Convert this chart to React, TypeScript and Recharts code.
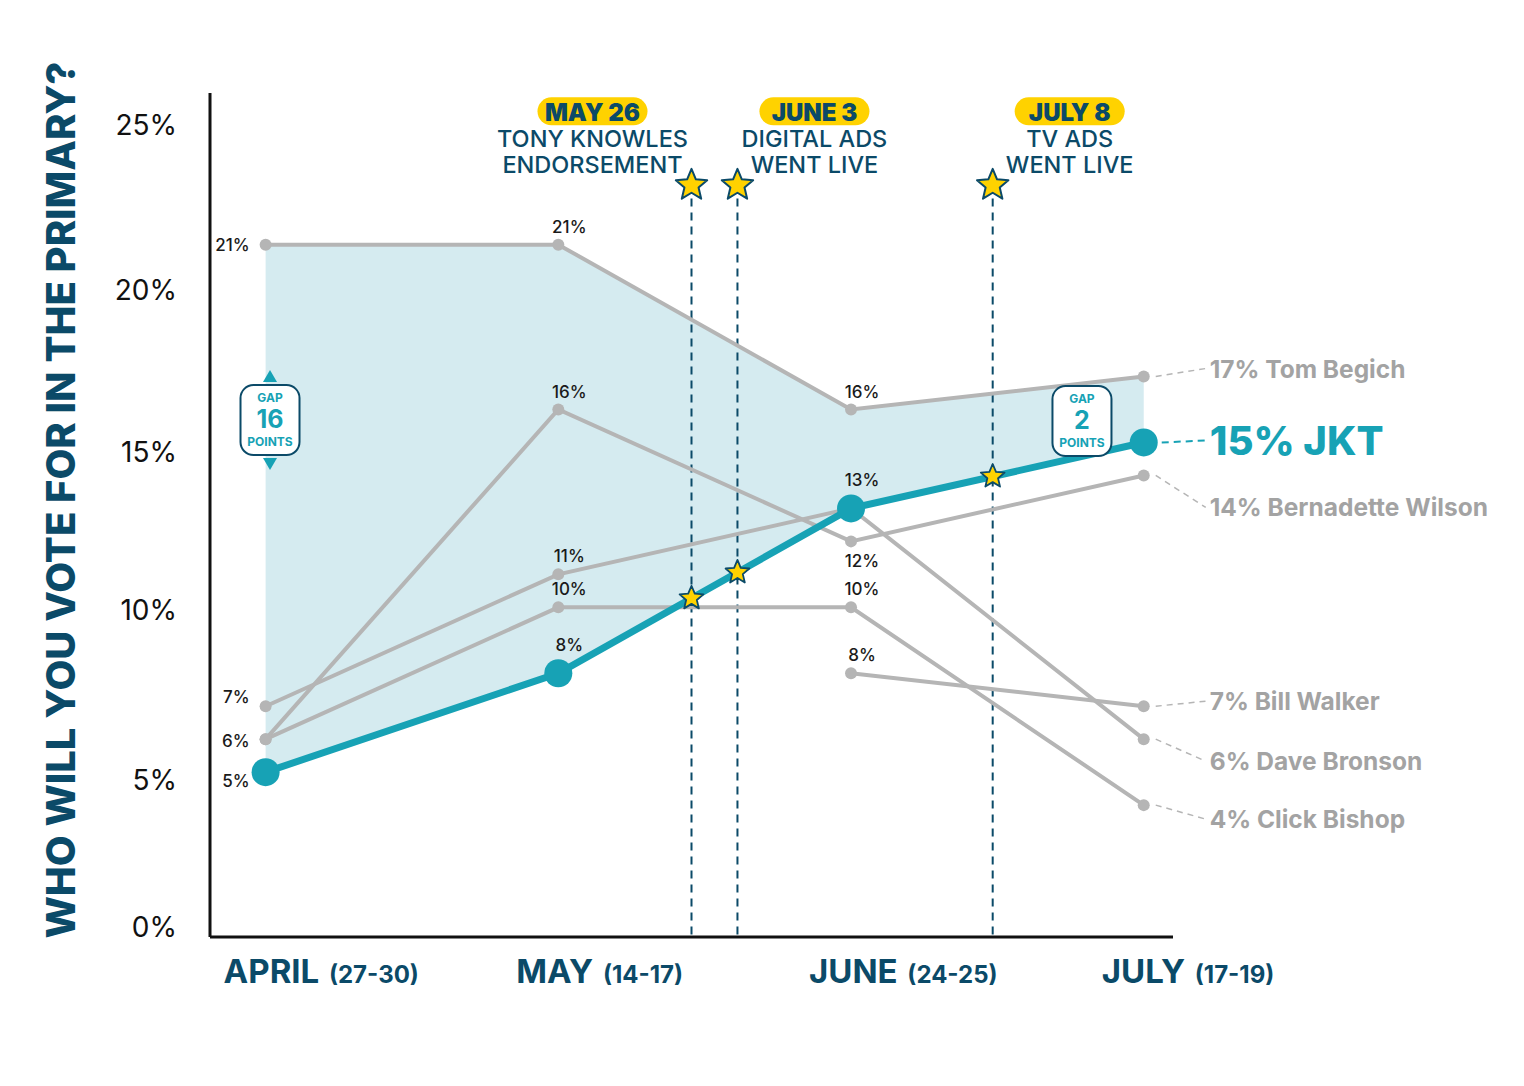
import React from 'react';
import {
  ComposedChart,
  Line,
  Area,
  XAxis,
  YAxis,
  ReferenceLine,
  ReferenceDot,
  Customized,
} from 'recharts';

// ---------- data ----------
const periods = ['APRIL', 'MAY', 'JUNE', 'JULY'];
const periodDates = ['(27-30)', '(14-17)', '(24-25)', '(17-19)'];
const periodX = [0, 1, 2, 3];

const jkt = [5, 8, 13, 15];
const begich = [21, 21, 16, 17];
const wilson = [6, 16, 12, 14];
const bronson = [7, 11, 13, 6];
const bishop = [6, 10, 10, 4];
const walker: (number | null)[] = [null, null, 8, 7];

const yTicks = [0, 5, 10, 15, 20, 25];

const eventX = [1.455, 1.612, 2.484];
const eventDates = ['MAY 26', 'JUNE 3', 'JULY 8'];
const eventLines = [
  ['TONY KNOWLES', 'ENDORSEMENT'],
  ['DIGITAL ADS', 'WENT LIVE'],
  ['TV ADS', 'WENT LIVE'],
];

const gapValues = [16, 2];

// ---------- styling / layout ----------
const FONT = 'Inter, "Noto Sans", sans-serif';
const NAVY = '#0b4a68';
const TEAL = '#17a2b5';
const GRAY = '#b5b5b5';
const GRAY_TEXT = '#a3a3a3';
const BAND = '#d5ebf0';
const YELLOW = '#ffd200';

const eventTextDx = [-99, 77, 77];
const eventTopY = 22.8;
const gapPos = [
  { x: 0.015, y: 15.68, arrows: true },
  { x: 2.789, y: 15.65, arrows: false },
];
const yTickShift: Record<number, number> = { 25: 12, 20: 12, 15: 10, 10: 3, 5: 8, 0: -10 };

type SeriesCfg = {
  key: string;
  name: string;
  firstDy: number;
  skip?: number[];
  below?: number[];
  rightDy: number;
};

const graySeries: SeriesCfg[] = [
  { key: 'begich', name: 'Tom Begich', firstDy: 0, rightDy: -8 },
  { key: 'wilson', name: 'Bernadette Wilson', firstDy: 2, below: [2], rightDy: 32 },
  { key: 'bronson', name: 'Dave Bronson', firstDy: -9, skip: [2], rightDy: 22 },
  { key: 'bishop', name: 'Click Bishop', firstDy: 2, skip: [0], rightDy: 14 },
  { key: 'walker', name: 'Bill Walker', firstDy: 0, rightDy: -5 },
];
const jktCfg: SeriesCfg = { key: 'jkt', name: 'JKT', firstDy: 9, rightDy: -2 };

const data = periodX.map((x, i) => ({
  x,
  jkt: jkt[i],
  begich: begich[i],
  wilson: wilson[i],
  bronson: bronson[i],
  bishop: bishop[i],
  walker: walker[i],
  band: [jkt[i], begich[i]],
}));

const interpJkt = (x: number) => {
  const i = Math.min(Math.floor(x), jkt.length - 2);
  const t = x - i;
  return jkt[i] + (jkt[i + 1] - jkt[i]) * t;
};

const starPoints = (cx: number, cy: number, R: number) => {
  const r = R * 0.45;
  const pts: string[] = [];
  for (let k = 0; k < 10; k++) {
    const rad = k % 2 === 0 ? R : r;
    const a = -Math.PI / 2 + (k * Math.PI) / 5;
    pts.push(`${cx + rad * Math.cos(a)},${cy + rad * Math.sin(a)}`);
  }
  return pts.join(' ');
};

const makeLabel = (s: SeriesCfg) => (props: any) => {
  const { x, y, value, index } = props;
  if (value == null || x == null || y == null) return null;
  if (s.skip && s.skip.includes(index)) return null;
  const isJkt = s.key === 'jkt';
  if (index === 3) {
    const ty = y + s.rightDy;
    return (
      <g>
        <line
          x1={x + (isJkt ? 18 : 12)}
          y1={y}
          x2={x + 62}
          y2={ty}
          stroke={isJkt ? TEAL : GRAY}
          strokeWidth={isJkt ? 2 : 1.5}
          strokeDasharray={isJkt ? '7 5' : '6 5'}
        />
        <text
          x={x + 66}
          y={ty}
          dominantBaseline="central"
          fontFamily={FONT}
          fontSize={isJkt ? 40 : 24.5}
          fontWeight={isJkt ? 800 : 700}
          fill={isJkt ? TEAL : GRAY_TEXT}
        >
          {`${value}% ${s.name}`}
        </text>
      </g>
    );
  }
  if (index === 0) {
    return (
      <text
        x={x - 16}
        y={y + s.firstDy}
        textAnchor="end"
        dominantBaseline="central"
        fontFamily={FONT}
        fontSize={17}
        fontWeight={500}
        fill="#1a1a1a"
      >
        {`${value}%`}
      </text>
    );
  }
  const below = s.below && s.below.includes(index);
  const dy = below ? 20 : isJkt ? -28 : -18;
  return (
    <text
      x={x + 11}
      y={y + dy}
      textAnchor="middle"
      dominantBaseline="central"
      fontFamily={FONT}
      fontSize={17}
      fontWeight={500}
      fill="#1a1a1a"
    >
      {`${value}%`}
    </text>
  );
};

const YTick = (props: any) => {
  const { y, payload } = props;
  return (
    <text
      x={169}
      y={y + (yTickShift[payload.value] ?? 0)}
      textAnchor="end"
      dominantBaseline="central"
      fontFamily={FONT}
      fontSize={28}
      fill="#111"
    >
      {`${payload.value}%`}
    </text>
  );
};

const XTick = (props: any) => {
  const { x, payload } = props;
  const i = periodX.indexOf(payload.value);
  if (i < 0) return null;
  return (
    <text x={x - 42} y={975} fontFamily={FONT} fontWeight={700} fill={NAVY}>
      <tspan fontSize={33}>{periods[i]}</tspan>
      <tspan fontSize={24} dx={4}>{` ${periodDates[i]}`}</tspan>
    </text>
  );
};

const YTitle = () => (
  <text
    x={52}
    y={492}
    transform="rotate(-90 52 492)"
    textAnchor="middle"
    dominantBaseline="central"
    fontFamily={FONT}
    fontSize={40}
    fontWeight={800}
    fill={NAVY}
  >
    WHO WILL YOU VOTE FOR IN THE PRIMARY?
  </text>
);

const TopStar = (i: number) => (props: any) => {
  const { cx, cy } = props;
  const tx = cx + eventTextDx[i];
  return (
    <g>
      <rect x={tx - 55} y={cy - 88} width={110} height={28} rx={14} fill={YELLOW} />
      <text
        x={tx}
        y={cy - 73}
        textAnchor="middle"
        dominantBaseline="central"
        fontFamily={FONT}
        fontSize={24}
        fontWeight={900}
        fill={NAVY}
      >
        {eventDates[i]}
      </text>
      {eventLines[i].map((ln, k) => (
        <text
          key={k}
          x={tx}
          y={cy - 47 + k * 26}
          textAnchor="middle"
          dominantBaseline="central"
          fontFamily={FONT}
          fontSize={23.5}
          fontWeight={500}
          fill={NAVY}
        >
          {ln}
        </text>
      ))}
      <polygon points={starPoints(cx, cy, 16.5)} fill={YELLOW} stroke={NAVY} strokeWidth={2} strokeLinejoin="round" />
    </g>
  );
};

const LineStar = (props: any) => {
  const { cx, cy } = props;
  return <polygon points={starPoints(cx, cy, 12.5)} fill={YELLOW} stroke={NAVY} strokeWidth={1.8} strokeLinejoin="round" />;
};

const GapBox = (i: number) => (props: any) => {
  const { cx, cy } = props;
  const w = 59;
  const h = 70;
  return (
    <g>
      {gapPos[i].arrows && (
        <>
          <polygon points={`${cx - 7},${cy - 38} ${cx + 7},${cy - 38} ${cx},${cy - 50}`} fill={TEAL} />
          <polygon points={`${cx - 7},${cy + 38} ${cx + 7},${cy + 38} ${cx},${cy + 50}`} fill={TEAL} />
        </>
      )}
      <rect x={cx - w / 2} y={cy - h / 2} width={w} height={h} rx={13} fill="#fff" stroke={NAVY} strokeWidth={2} />
      <text x={cx} y={cy - 23} textAnchor="middle" dominantBaseline="central" fontFamily={FONT} fontSize={12} fontWeight={700} fill={TEAL}>
        GAP
      </text>
      <text x={cx} y={cy - 1} textAnchor="middle" dominantBaseline="central" fontFamily={FONT} fontSize={25} fontWeight={700} fill={TEAL}>
        {gapValues[i]}
      </text>
      <text x={cx} y={cy + 21} textAnchor="middle" dominantBaseline="central" fontFamily={FONT} fontSize={12} fontWeight={700} fill={TEAL}>
        POINTS
      </text>
    </g>
  );
};

export default function App() {
  return (
    <div style={{ width: 1508, height: 1070, background: '#fff' }}>
      <ComposedChart
        width={1508}
        height={1070}
        data={data}
        margin={{ top: 85, right: 343, bottom: 61, left: 102 }}
      >
        <XAxis
          dataKey="x"
          type="number"
          domain={[-0.19, 3.1]}
          ticks={periodX}
          axisLine={{ stroke: '#111', strokeWidth: 3 }}
          tickLine={false}
          tick={<XTick />}
          height={80}
          interval={0}
        />
        <YAxis
          type="number"
          domain={[0, 25.6]}
          ticks={yTicks}
          axisLine={{ stroke: '#111', strokeWidth: 3 }}
          tickLine={false}
          tick={<YTick />}
          width={100}
          interval={0}
        />
        <Area
          dataKey="band"
          type="linear"
          fill={BAND}
          fillOpacity={1}
          stroke="none"
          dot={false}
          activeDot={false}
          isAnimationActive={false}
        />
        {eventX.map((ex, i) => (
          <ReferenceLine
            key={`rl${i}`}
            segment={[
              { x: ex, y: eventTopY - 0.4 },
              { x: ex, y: 0 },
            ]}
            stroke={NAVY}
            strokeWidth={2}
            strokeDasharray="8 6"
          />
        ))}
        {graySeries.map((s) => (
          <Line
            key={s.key}
            dataKey={s.key}
            type="linear"
            stroke={GRAY}
            strokeWidth={4}
            dot={{ r: 6, fill: GRAY, stroke: 'none' }}
            activeDot={false}
            label={makeLabel(s)}
            isAnimationActive={false}
          />
        ))}
        <Line
          dataKey="jkt"
          type="linear"
          stroke={TEAL}
          strokeWidth={7}
          dot={{ r: 14, fill: TEAL, stroke: 'none' }}
          activeDot={false}
          label={makeLabel(jktCfg)}
          isAnimationActive={false}
        />
        {eventX.map((ex, i) => (
          <ReferenceDot key={`ts${i}`} x={ex} y={eventTopY} r={16} shape={TopStar(i)} />
        ))}
        {eventX.map((ex, i) => (
          <ReferenceDot key={`ls${i}`} x={ex} y={interpJkt(ex)} r={12} shape={LineStar} />
        ))}
        {gapPos.map((g, i) => (
          <ReferenceDot key={`gap${i}`} x={g.x} y={g.y} r={30} shape={GapBox(i)} />
        ))}
        <Customized component={<YTitle />} />
      </ComposedChart>
    </div>
  );
}
